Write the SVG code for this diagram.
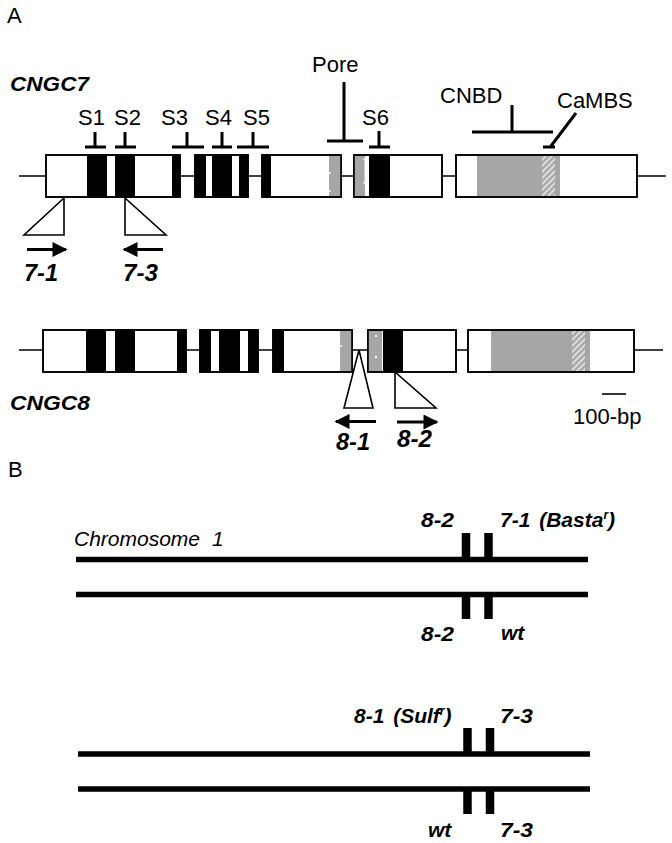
<svg xmlns="http://www.w3.org/2000/svg" width="672" height="843" viewBox="0 0 672 843">
<defs>
<pattern id="hatch" patternUnits="userSpaceOnUse" width="6" height="6">
<rect width="6" height="6" fill="#a6a6a6"/>
<path d="M-1,7 L7,-1 M-4,4 L4,-4 M2,10 L10,2" stroke="#dcdcdc" stroke-width="2"/>
</pattern>
<marker id="ah" viewBox="0 0 10 10" refX="9" refY="5" markerWidth="5.5" markerHeight="5" markerUnits="strokeWidth" orient="auto">
<path d="M0,0 L10,5 L0,10 Z" fill="#000"/>
</marker>
</defs>
<style>
.lbl{font-family:"Liberation Sans",Arial,sans-serif;font-size:22px;fill:#000}
.bi{font-family:"Liberation Sans",Arial,sans-serif;font-size:21px;font-weight:bold;font-style:italic;fill:#000}
.pl{font-size:24px}
.it{font-family:"Liberation Sans",Arial,sans-serif;font-size:21px;font-style:italic;fill:#000}
.box{fill:#fff;stroke:#000;stroke-width:1.6}
.ol{fill:none;stroke:#000;stroke-width:1.6}
.ln{stroke:#000;stroke-width:1.6;fill:none}
.blk{fill:#000}
.gry{fill:#a6a6a6}
.tick{stroke:#000;stroke-width:3;fill:none}
.tri{fill:#fff;stroke:#000;stroke-width:1.6}
.arr{stroke:#000;stroke-width:3;fill:none;marker-end:url(#ah)}
.chr{stroke:#000;stroke-width:5.5;fill:none}
.bar{stroke:#000;stroke-width:8.5;fill:none}
</style>

<text class="lbl" x="7" y="23">A</text>
<text class="lbl" x="8" y="477">B</text>

<!-- CNGC7 gene -->
<g id="cngc7">
<text class="bi" x="10" y="91" textLength="79" lengthAdjust="spacingAndGlyphs">CNGC7</text>
<path class="ln" d="M19,176 H46 M180,176 H195 M248,176 H262 M341,176 H354 M442,176 H456 M637,176 H666"/>
<rect class="box" x="46" y="155" width="134" height="42"/>
<rect class="blk" x="87" y="155" width="20" height="42"/>
<rect class="blk" x="115" y="155" width="20" height="42"/>
<rect class="blk" x="172" y="155" width="8" height="42"/>
<rect class="box" x="195" y="155" width="53" height="42"/>
<rect class="blk" x="195" y="155" width="11" height="42"/>
<rect class="blk" x="212" y="155" width="20" height="42"/>
<rect class="blk" x="239" y="155" width="9" height="42"/>
<rect class="box" x="262" y="155" width="79" height="42"/>
<rect class="blk" x="262" y="155" width="9" height="42"/>
<rect class="gry" x="329" y="156" width="12" height="40"/>
<rect fill="#fff" x="329" y="172" width="1.5" height="2"/>
<rect fill="#fff" x="329" y="190" width="1.5" height="2"/>
<rect class="box" x="354" y="155" width="88" height="42"/>
<rect class="gry" x="354" y="156" width="11" height="40"/>
<path d="M363,159 H365 V183 H363" stroke="#fff" stroke-width="1" fill="none"/>
<rect class="blk" x="369" y="155" width="21" height="42"/>
<rect class="box" x="456" y="155" width="181" height="42"/>
<rect class="gry" x="477" y="156" width="83" height="40"/>
<rect fill="url(#hatch)" x="542" y="156" width="13" height="40"/>
<rect class="ol" x="46" y="155" width="134" height="42"/>
<rect class="ol" x="195" y="155" width="53" height="42"/>
<rect class="ol" x="262" y="155" width="79" height="42"/>
<rect class="ol" x="354" y="155" width="88" height="42"/>
<rect class="ol" x="456" y="155" width="181" height="42"/>
</g>

<g id="domains7">
<text class="lbl" x="78" y="125">S1</text>
<path class="tick" d="M85,147 H106 M95,132 V147"/>
<text class="lbl" x="114" y="125">S2</text>
<path class="tick" d="M115,147 H136 M125,132 V147"/>
<text class="lbl" x="161" y="125">S3</text>
<path class="tick" d="M172,147 H204 M187,132 V147"/>
<text class="lbl" x="205" y="125">S4</text>
<path class="tick" d="M212,147 H232 M222,132 V147"/>
<text class="lbl" x="243" y="125">S5</text>
<path class="tick" d="M237,147 H269 M253,132 V147"/>
<text class="lbl" x="312" y="72">Pore</text>
<path class="tick" d="M327,141 H363 M344,82 V141"/>
<text class="lbl" x="362" y="125">S6</text>
<path class="tick" d="M369,147 H390 M379,131 V147"/>
<text class="lbl" x="440" y="103">CNBD</text>
<path class="tick" d="M472,132 H553 M512,105 V132"/>
<text class="lbl" x="557" y="108">CaMBS</text>
<path class="tick" d="M576,113 L551,146 M543,147 H555"/>
</g>

<g id="primers7">
<polygon class="tri" points="64,198 64,235 24,235"/>
<polygon class="tri" points="125,198 125,235 166,235"/>
<path class="arr" d="M27,249.5 H66"/>
<path class="arr" d="M163,249.5 H124"/>
<text class="bi pl" x="24" y="281" textLength="34" lengthAdjust="spacingAndGlyphs">7-1</text>
<text class="bi pl" x="123" y="281" textLength="35" lengthAdjust="spacingAndGlyphs">7-3</text>
</g>

<!-- CNGC8 gene -->
<g id="cngc8">
<path class="ln" d="M19,350 H43 M186,350 H200 M258,350 H273 M352,350 H368 M456,350 H468 M634,350 H663"/>
<rect class="box" x="43" y="330" width="143" height="42"/>
<rect class="blk" x="86" y="330" width="20" height="42"/>
<rect class="blk" x="115" y="330" width="20" height="42"/>
<rect class="blk" x="177" y="330" width="9" height="42"/>
<rect class="box" x="200" y="330" width="58" height="42"/>
<rect class="blk" x="200" y="330" width="11" height="42"/>
<rect class="blk" x="219" y="330" width="21" height="42"/>
<rect class="blk" x="248" y="330" width="10" height="42"/>
<rect class="box" x="273" y="330" width="79" height="42"/>
<rect class="blk" x="273" y="330" width="11" height="42"/>
<rect class="gry" x="340" y="331" width="12" height="40"/>
<rect fill="#fff" x="340" y="345" width="1.5" height="2"/>
<rect class="box" x="368" y="330" width="88" height="42"/>
<rect class="gry" x="368" y="331" width="14" height="40"/>
<rect fill="#fff" x="375" y="335" width="2" height="2"/>
<rect fill="#fff" x="375" y="356" width="2" height="2"/>
<rect class="blk" x="383" y="330" width="20" height="42"/>
<rect class="box" x="468" y="330" width="166" height="42"/>
<rect class="gry" x="491" y="331" width="99" height="40"/>
<rect fill="url(#hatch)" x="572" y="331" width="13" height="40"/>
<rect class="ol" x="43" y="330" width="143" height="42"/>
<rect class="ol" x="200" y="330" width="58" height="42"/>
<rect class="ol" x="273" y="330" width="79" height="42"/>
<rect class="ol" x="368" y="330" width="88" height="42"/>
<rect class="ol" x="468" y="330" width="166" height="42"/>
<text class="bi" x="10" y="410" textLength="80" lengthAdjust="spacingAndGlyphs">CNGC8</text>
</g>

<g id="primers8">
<polygon class="tri" points="359,350 373,408 344,408"/>
<polygon class="tri" points="395,372 395,408 436,408"/>
<path class="arr" d="M376,421.5 H336"/>
<path class="arr" d="M397,422 H437"/>
<text class="bi pl" x="336" y="450" textLength="34" lengthAdjust="spacingAndGlyphs">8-1</text>
<text class="bi pl" x="397" y="447" textLength="35" lengthAdjust="spacingAndGlyphs">8-2</text>
</g>

<g id="scale">
<path d="M602,394 H626" stroke="#000" stroke-width="1.6"/>
<text class="lbl" x="573" y="424">100-bp</text>
</g>

<!-- Section B -->
<g id="chr-pair1">
<text class="it" x="74" y="546" word-spacing="6">Chromosome 1</text>
<path class="chr" d="M76,559.5 H588 M76,594.5 H588"/>
<path class="bar" d="M466,533 V560 M488.5,533 V560 M466,594 V619 M488.5,594 V619"/>
<text class="bi" x="421" y="527" textLength="33" lengthAdjust="spacingAndGlyphs">8-2</text>
<text class="bi" x="500" y="527" word-spacing="3">7-1 (Basta<tspan dy="-8" font-size="12">r</tspan><tspan dy="8">)</tspan></text>
<text class="bi" x="421" y="641" textLength="33" lengthAdjust="spacingAndGlyphs">8-2</text>
<text class="bi" x="501" y="640">wt</text>
</g>

<g id="chr-pair2">
<path class="chr" d="M78,754 H590 M78,789 H590"/>
<path class="bar" d="M467.5,728 V754 M490,728 V754 M467.5,789 V814 M490,789 V814"/>
<text class="bi" x="354" y="723" word-spacing="3">8-1 (Sulf<tspan dy="-8" font-size="12">r</tspan><tspan dy="8">)</tspan></text>
<text class="bi" x="500" y="723" textLength="33" lengthAdjust="spacingAndGlyphs">7-3</text>
<text class="bi" x="428" y="837">wt</text>
<text class="bi" x="500" y="837" textLength="33" lengthAdjust="spacingAndGlyphs">7-3</text>
</g>
</svg>
